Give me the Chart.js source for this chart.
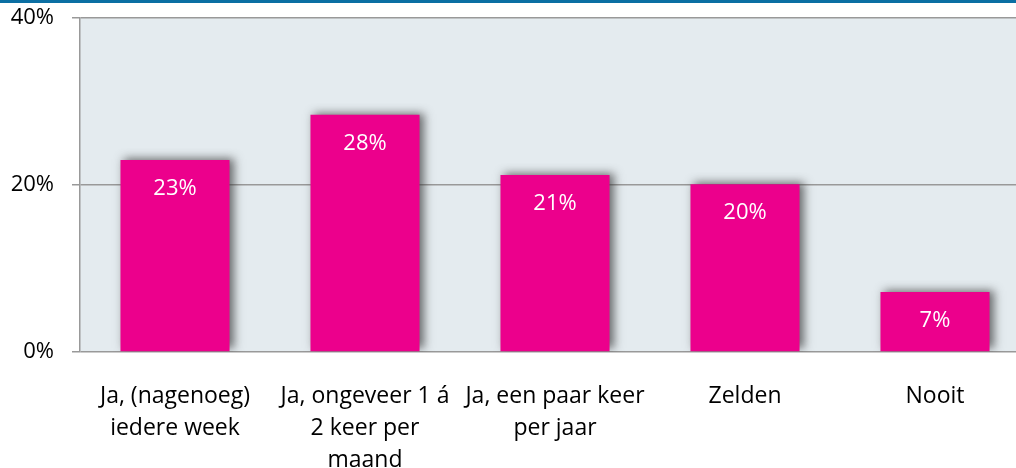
<!DOCTYPE html>
<html>
<head>
<meta charset="utf-8">
<script src="https://cdn.jsdelivr.net/npm/chart.js@4"></script>
<style>
html,body{margin:0;padding:0;background:#fff;overflow:hidden}
#topline{position:absolute;left:0;top:0;width:1016px;height:3px;background:#0b6fa3}
#wrap{position:absolute;left:0;top:0;width:1040px;height:468px}
</style>
</head>
<body>
<div id="wrap"><canvas id="chart" width="1040" height="468"></canvas></div>
<div id="topline"></div>
<script>

const categories=[
["Ja, (nagenoeg)","iedere week"],
["Ja, ongeveer 1 á","2 keer per","maand"],
["Ja, een paar keer","per jaar"],
"Zelden",
"Nooit"
]

const values=[23,28.4,21.2,20.1,7.2]

const valueLabels=["23%","28%","21%","20%","7%"]

const yTicks=[0,20,40]

const fontName="'Open Sans'"

const plotBg={
id:"plotBg",
beforeDraw(chart)
{
const a=chart.chartArea
const ctx=chart.ctx
ctx.save()
ctx.fillStyle="#e4ebef"
ctx.fillRect(a.left,a.top,a.right-a.left,a.bottom-a.top)
ctx.restore()
}
}

const barShadow={
id:"barShadow",
beforeDatasetDraw(chart)
{
const ctx=chart.ctx
ctx.save()
ctx.shadowColor="rgba(50,50,50,0.7)"
ctx.shadowBlur=9
ctx.shadowOffsetX=4
ctx.shadowOffsetY=-2
},
afterDatasetDraw(chart)
{
chart.ctx.restore()
}
}

const valueText={
id:"valueText",
afterDatasetsDraw(chart)
{
const ctx=chart.ctx
const meta=chart.getDatasetMeta(0)
ctx.save()
ctx.fillStyle="#ffffff"
ctx.font="22px "+fontName
ctx.textAlign="center"
ctx.textBaseline="middle"
meta.data.forEach(function(bar,i)
{
ctx.fillText(valueLabels[i],bar.x,bar.y+29)
})
ctx.restore()
}
}

new Chart(document.getElementById("chart"),
{
type:"bar",
data:
{
labels:categories,
datasets:[
{
data:values,
backgroundColor:"#ec008c",
categoryPercentage:1,
barPercentage:0.574
}
]
},
options:
{
responsive:false,
animation:false,
layout:{padding:{top:18,right:10,left:0,bottom:0}},
plugins:
{
legend:{display:false},
tooltip:{enabled:false}
},
scales:
{
x:
{
grid:{display:false,drawTicks:false},
border:{display:false},
ticks:
{
color:"#000",
padding:28,
maxRotation:0,
autoSkip:false,
font:{family:fontName,size:23,lineHeight:"32px"}
},
afterFit(scale){scale.height=116}
},
y:
{
min:0,
max:40,
afterBuildTicks(scale){scale.ticks=yTicks.map(function(v){return {value:v}})},
grid:{color:"#999",lineWidth:1.5,tickLength:8},
border:{color:"#999",width:1.5},
ticks:
{
color:"#000",
padding:18,
font:{family:fontName,size:22},
callback:function(v){return v+"%"}
},
afterFit(scale)
{
scale.width=80
scale.paddingTop=0
scale.paddingBottom=0
}
}
}
},
plugins:[plotBg,barShadow,valueText]
})

</script>
</body>
</html>
